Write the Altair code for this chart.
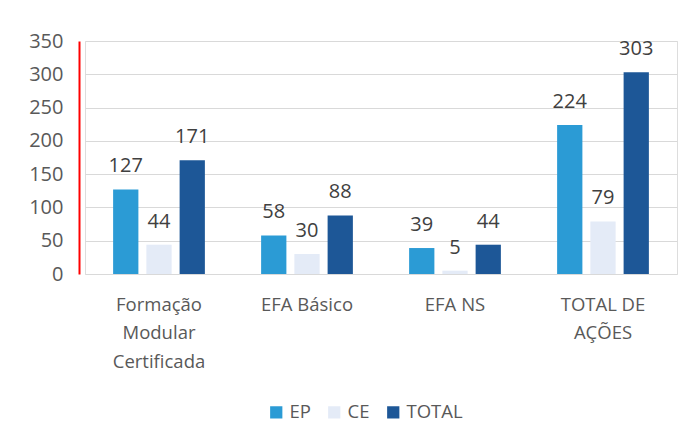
import altair as alt
import pandas as pd

categories = ["Formação Modular Certificada", "EFA Básico", "EFA NS", "TOTAL DE AÇÕES"]
series = ["EP", "CE", "TOTAL"]
ep = [127, 58, 39, 224]
ce = [44, 30, 5, 79]
total = [171, 88, 44, 303]
y_ticks = [0, 50, 100, 150, 200, 250, 300, 350]
colors = ["#2b9bd5", "#e4ebf7", "#1d5797"]
label_lines = {
    "Formação Modular Certificada": ["Formação", "Modular", "Certificada"],
    "EFA Básico": ["EFA Básico"],
    "EFA NS": ["EFA NS"],
    "TOTAL DE AÇÕES": ["TOTAL DE", "AÇÕES"],
}

rows = []
for i, c in enumerate(categories):
    for s, vals in zip(series, [ep, ce, total]):
        rows.append({"cat": c, "serie": s, "valor": vals[i]})
df = pd.DataFrame(rows)

expr = ""
for k, v in label_lines.items():
    arr = "[" + ",".join("'" + x + "'" for x in v) + "]"
    expr += f"datum.value == '{k}' ? {arr} : "
expr += "datum.value"

FONT = "Open Sans"

base = alt.Chart(df).encode(
    x=alt.X("cat:N", sort=categories, title=None,
            scale=alt.Scale(paddingInner=0.38, paddingOuter=0.19),
            axis=alt.Axis(labelAngle=0, labelExpr=expr, labelFontSize=18.5,
                          labelColor="#595959", labelFont=FONT, domain=False,
                          ticks=False, grid=False, labelPadding=21,
                          labelLineHeight=28.5)),
    xOffset=alt.XOffset("serie:N", sort=series,
                        scale=alt.Scale(paddingInner=0.24)),
    y=alt.Y("valor:Q", title=None,
            scale=alt.Scale(domain=[0, 350], nice=False),
            axis=alt.Axis(values=y_ticks, labelFontSize=20,
                          labelColor="#595959", labelFont=FONT, domain=True,
                          domainColor="red", domainWidth=2, offset=6,
                          ticks=False, labelPadding=16, gridColor="#d9d9d9",
                          gridWidth=1)),
)

bars = base.mark_bar().encode(
    color=alt.Color("serie:N", sort=series,
                    scale=alt.Scale(domain=series, range=colors),
                    legend=alt.Legend(orient="none", legendX=182, legendY=362,
                                      direction="horizontal",
                                      title=None, symbolType="square",
                                      symbolSize=150, labelFontSize=18.5,
                                      labelColor="#595959", labelFont=FONT,
                                      columnPadding=14,
                                      symbolStrokeWidth=0))
)

text = base.mark_text(dy=-23, fontSize=20, color="#404040", font=FONT).encode(
    text="valor:Q"
)

chart = (
    (bars + text)
    .properties(
        width=592, height=233,
        padding={"left": 20, "top": 23, "right": 8, "bottom": 8},
    )
    .configure_view(strokeWidth=3, stroke="green")
    .configure(background="white")
)

chart.save("out.html", embed_options={"renderer": "svg", "actions": False})
